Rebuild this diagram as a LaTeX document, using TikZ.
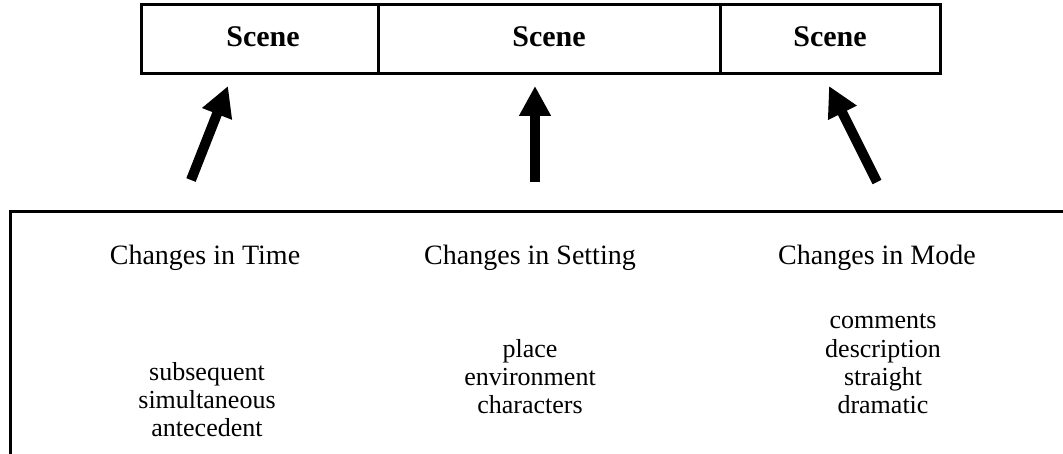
\documentclass[tikz,border=0pt]{standalone}
\usepackage{fontspec}
\setmainfont{Liberation Serif}
\usetikzlibrary{arrows.meta}
\begin{document}
\begin{tikzpicture}[x=1pt,y=-1pt,
  frame/.style={line width=3pt},
  bigarrow/.style={arrows={-Triangle[length=30pt,width=30pt]}, line width=10pt},
  scn/.style={font=\fontsize{30}{36}\selectfont\bfseries, anchor=base, inner sep=0pt},
  head/.style={font=\fontsize{28}{34}\selectfont, anchor=base, inner sep=0pt},
  lst/.style={font=\fontsize{26}{29}\selectfont, anchor=base, inner sep=0pt}]
\useasboundingbox (0,0) rectangle (1063,454);
\clip (0,0) rectangle (1063,454);
% top box of scenes
\draw[frame] (141,5) rectangle (940,74);
\draw[frame] (378,5) -- (378,74);
\draw[frame] (720,5) -- (720,74);
\node[scn] (s1) at (263,47) {Scene};
\node[scn] (s2) at (549,47) {Scene};
\node[scn] (s3) at (830,47) {Scene};
% bottom box (open)
\draw[frame] (1070,212) -- (10,212) -- (10,460);
% arrows
\coordinate (t1) at (191,180); \coordinate (h1) at (228,86);
\coordinate (t2) at (535,182); \coordinate (h2) at (535,86);
\coordinate (t3) at (877,182); \coordinate (h3) at (829,86);
\draw[bigarrow] (t1) -- (h1);
\draw[bigarrow] (t2) -- (h2);
\draw[bigarrow] (t3) -- (h3);
% headings
\node[head] (c1) at (205,265) {Changes in Time};
\node[head] (c2) at (530,265) {Changes in Setting};
\node[head] (c3) at (877,265) {Changes in Mode};
% lists
\node[lst] (a1) at (207,380) {subsequent};
\node[lst] (a2) at (207,408) {simultaneous};
\node[lst] (a3) at (207,436) {antecedent};
\node[lst] (b1) at (530,357) {place};
\node[lst] (b2) at (530,385) {environment};
\node[lst] (b3) at (530,413) {characters};
\node[lst] (d1) at (883,329) {comments};
\node[lst] (d2) at (883,357) {description};
\node[lst] (d3) at (883,385) {straight};
\node[lst] (d4) at (883,413) {dramatic};
\end{tikzpicture}
\end{document}
